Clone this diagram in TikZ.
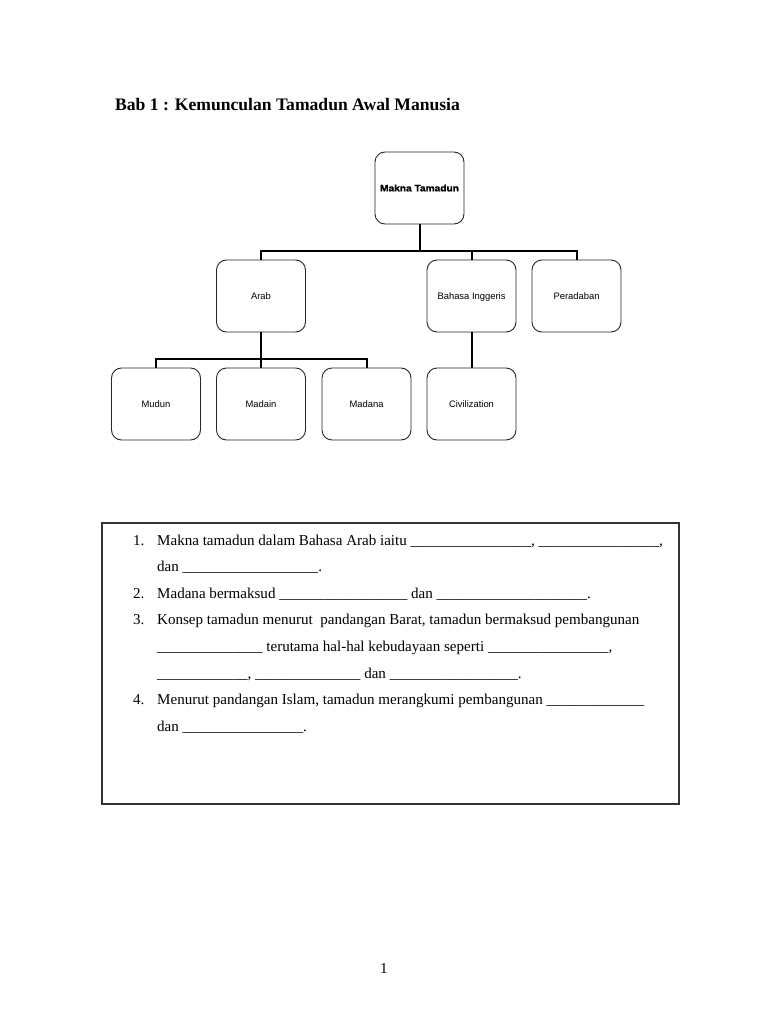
\documentclass[tikz,border=0pt]{standalone}
\usepackage{fontspec}
\setmainfont{Liberation Serif}
\newfontfamily\arial{Liberation Sans}
\newfontfamily\heavy[UprightFont=* Bold,FakeBold=1.3,FakeStretch=1.08]{Liberation Sans}
\newcommand\blanks[1]{\foreach\i in {1,...,#1}{\_}}
\begin{document}
\begin{tikzpicture}[x=1pt,y=-1pt,
  cbox/.style={draw=black!85,line width=0.9pt,rounded corners=10pt,minimum width=89pt,minimum height=72pt,inner sep=0pt,text height=6.8pt,text depth=0pt,font=\arial\fontsize{9.4}{11}\selectfont},
  conn/.style={line width=2pt,black},
  txt/.style={anchor=base west,inner sep=0pt,font=\fontsize{15.06}{18}\selectfont}]
\useasboundingbox[fill=white] (0,0) rectangle (768,1024);
\node[anchor=base west,inner sep=0pt,font=\bfseries\fontsize{17.6}{21}\selectfont] (title) at (115,111) {Bab 1 : Kemunculan Tamadun Awal Manusia};
% tree
\node[cbox,font=\heavy\fontsize{9.4}{11}\selectfont] (makna) at (419.5,188) {Makna Tamadun};
\node[cbox] (arab) at (261,296) {Arab};
\node[cbox] (bahasa) at (471.5,296) {Bahasa Inggeris};
\node[cbox] (perad) at (576.5,296) {Peradaban};
\node[cbox] (mudun) at (156,404) {Mudun};
\node[cbox] (madain) at (261,404) {Madain};
\node[cbox] (madana) at (366.5,404) {Madana};
\node[cbox] (civ) at (471.5,404) {Civilization};
\coordinate (j1) at (419.5,251);
\coordinate (j2) at (261,359);
\draw[conn] (makna.south) -- (j1);
\draw[conn] (arab.north) |- (j1) -| (perad.north);
\draw[conn] (j1) -| (bahasa.north);
\draw[conn] (arab.south) -- (j2);
\draw[conn] (mudun.north) |- (j2) -| (madana.north);
\draw[conn] (j2) -- (madain.north);
\draw[conn] (bahasa.south) -- (civ.north);
% question box
\node[draw=black!80,line width=1.2pt,minimum width=577pt,minimum height=281pt,inner sep=0pt] (qbox) at (390.5,663.5) {};
\node[txt] (n1) at (133,545) {1.};
\node[txt] (l1) at (157,545) {Makna tamadun dalam Bahasa Arab iaitu \blanks{16}, \blanks{16},};
\node[txt] (l2) at (157,571.6) {dan \blanks{18}.};
\node[txt] (n2) at (133,598.2) {2.};
\node[txt] (l3) at (157,598.2) {Madana bermaksud \blanks{17} dan \blanks{20}.};
\node[txt] (n3) at (133,624.8) {3.};
\node[txt] (l4) at (157,624.8) {Konsep tamadun menurut\ \ pandangan Barat, tamadun bermaksud pembangunan};
\node[txt] (l5) at (157,651.4) {\blanks{14} terutama hal-hal kebudayaan seperti \blanks{16},};
\node[txt] (l6) at (157,678) {\blanks{12}, \blanks{14} dan \blanks{17}.};
\node[txt] (n4) at (133,704.6) {4.};
\node[txt] (l7) at (157,704.6) {Menurut pandangan Islam, tamadun merangkumi pembangunan \blanks{13}};
\node[txt] (l8) at (157,731.2) {dan \blanks{16}.};
\node[anchor=base,inner sep=0pt,font=\fontsize{15.06}{18}\selectfont] (pg) at (384,973) {1};
\end{tikzpicture}
\end{document}
